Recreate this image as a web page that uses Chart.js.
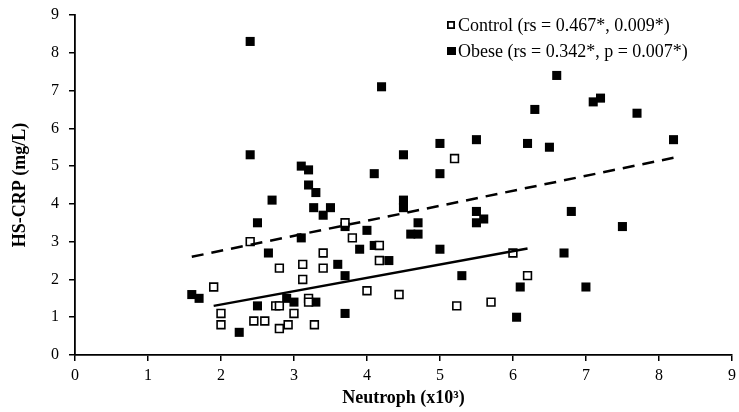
<!DOCTYPE html>
<html>
<head>
<meta charset="utf-8">
<script src="https://cdn.jsdelivr.net/npm/chart.js@4.4.1/dist/chart.umd.min.js"></script>
<style>
  html, body { margin: 0; padding: 0; background: #fff; }
  #wrap { width: 739px; height: 412px; }
</style>
</head>
<body>
<div id="wrap"><canvas id="hsChart" width="739" height="412"></canvas></div>
<script>
// valores (Neutroph x10^3, HS-CRP mg/L)
const controlX = [1.9, 2.0, 2.0, 2.4, 2.45, 2.6, 2.75, 2.8, 2.8, 2.8, 2.92, 3.0, 3.12, 3.12, 3.2, 3.2, 3.28, 3.4, 3.4, 3.7, 3.8, 4.0, 4.17, 4.17, 4.44, 5.2, 5.23, 5.7, 6.0, 6.2];
const controlY = [1.8, 1.1, 0.8, 3.0, 0.9, 0.9, 1.3, 1.3, 2.3, 0.7, 0.8, 1.1, 2.4, 2.0, 1.5, 1.4, 0.8, 2.7, 2.3, 3.5, 3.1, 1.7, 2.9, 2.5, 1.6, 5.2, 1.3, 1.4, 2.7, 2.1];

const obeseX = [1.6, 1.7, 2.25, 2.4, 2.4, 2.5, 2.5, 2.65, 2.7, 2.9, 3.0, 3.1, 3.1, 3.2, 3.2, 3.3, 3.27, 3.3, 3.4, 3.5, 3.6, 3.7, 3.7, 3.7, 3.9, 4.0, 4.1, 4.1, 4.2, 4.3, 4.5, 4.5, 4.5, 4.6, 4.7, 4.7, 5.0, 5.0, 5.0, 5.3, 5.5, 5.5, 5.5, 5.6, 6.05, 6.1, 6.2, 6.3, 6.5, 6.6, 6.7, 6.8, 7.0, 7.1, 7.2, 7.5, 7.7, 8.2];
const obeseY = [1.6, 1.5, 0.6, 8.3, 5.3, 3.5, 1.3, 2.7, 4.1, 1.5, 1.4, 5.0, 3.1, 4.9, 4.5, 4.3, 3.9, 1.4, 3.7, 3.9, 2.4, 3.4, 2.1, 1.1, 2.8, 3.3, 4.8, 2.9, 7.1, 2.5, 5.3, 4.1, 3.9, 3.2, 3.5, 3.2, 5.6, 4.8, 2.8, 2.1, 5.7, 3.8, 3.5, 3.6, 1.0, 1.8, 5.6, 6.5, 5.5, 7.4, 2.7, 3.8, 1.8, 6.7, 6.8, 3.4, 6.4, 5.7];

// lineas de tendencia (extremos)
const controlTrendX = [1.9, 6.2];
const controlTrendY = [1.3, 2.82];
const obeseTrendX = [1.6, 8.2];
const obeseTrendY = [2.6, 5.22];

const xTicks = [0, 1, 2, 3, 4, 5, 6, 7, 8, 9];
const yTicks = [0, 1, 2, 3, 4, 5, 6, 7, 8, 9];

const legendLabels = ['Control (rs = 0.467*, 0.009*)', 'Obese (rs = 0.342*, p = 0.007*)'];

function toPoints(xs, ys) {
    return xs.map((x, i) => ({ x: x, y: ys[i] }));
}

const serif = "'Liberation Serif', 'Times New Roman', serif";

// leyenda dibujada dentro del area del grafico
const insideLegend = {
    id: 'insideLegend',
    afterDraw(chart) {
        const ctx = chart.ctx;
        const area = chart.chartArea;
        const x0 = area.left + 372;
        const rows = [area.top + 10, area.top + 36];
        ctx.save();
        ctx.font = '18px ' + serif;
        ctx.textBaseline = 'middle';
        legendLabels.forEach((txt, i) => {
            const y = rows[i];
            if (i === 0) {
                ctx.fillStyle = '#fff';
                ctx.fillRect(x0, y - 4, 8, 8);
                ctx.lineWidth = 1.8;
                ctx.strokeStyle = '#000';
                ctx.strokeRect(x0 + 0.9, y - 3.1, 6.2, 6.2);
            } else {
                ctx.fillStyle = '#000';
                ctx.fillRect(x0, y - 4, 9, 8);
            }
            ctx.fillStyle = '#000';
            ctx.fillText(txt, x0 + 11, y + 1);
        });
        ctx.restore();
    }
};

const ctx = document.getElementById('hsChart').getContext('2d');

new Chart(ctx, {
    type: 'scatter',
    data: {
        datasets: [
            {
                label: 'Obese trend',
                data: toPoints(obeseTrendX, obeseTrendY),
                showLine: true,
                borderColor: '#000',
                borderWidth: 2.5,
                borderDash: [12, 8],
                pointRadius: 0,
                fill: false
            },
            {
                label: 'Control trend',
                data: toPoints(controlTrendX, controlTrendY),
                showLine: true,
                borderColor: '#000',
                borderWidth: 2.5,
                pointRadius: 0,
                fill: false
            },
            {
                label: 'Control',
                data: toPoints(controlX, controlY),
                pointStyle: 'rect',
                pointRadius: 5.5,
                backgroundColor: '#fff',
                borderColor: '#000',
                borderWidth: 1.6
            },
            {
                label: 'Obese',
                data: toPoints(obeseX, obeseY),
                pointStyle: 'rect',
                pointRadius: 6.4,
                backgroundColor: '#000',
                borderColor: '#000',
                borderWidth: 0
            }
        ]
    },
    options: {
        responsive: false,
        animation: false,
        layout: {
            padding: { top: 15, right: 7, bottom: 0, left: 0 }
        },
        plugins: {
            legend: { display: false },
            tooltip: { enabled: false }
        },
        scales: {
            x: {
                type: 'linear',
                min: 0,
                max: 9,
                afterBuildTicks: (scale) => { scale.ticks = xTicks.map(v => ({ value: v })); },
                afterFit: (scale) => { scale.height = 57; scale.paddingLeft = 0; scale.paddingRight = 0; },
                grid: { drawOnChartArea: false, drawTicks: true, tickLength: 6, color: '#000', lineWidth: 1.5 },
                border: { color: '#000', width: 1.8 },
                ticks: { color: '#000', font: { family: serif, size: 16 }, padding: 5, maxRotation: 0 },
                title: {
                    display: true,
                    text: 'Neutroph (x10³)',
                    color: '#000',
                    font: { family: serif, size: 18, weight: 'bold' },
                    padding: { top: 0, bottom: 3 }
                }
            },
            y: {
                type: 'linear',
                min: 0,
                max: 9,
                afterBuildTicks: (scale) => { scale.ticks = yTicks.map(v => ({ value: v })); },
                afterFit: (scale) => { scale.width = 75; scale.paddingTop = 0; scale.paddingBottom = 0; },
                grid: { drawOnChartArea: false, drawTicks: true, tickLength: 6, color: '#000', lineWidth: 1.5 },
                border: { color: '#000', width: 1.8 },
                ticks: { color: '#000', font: { family: serif, size: 16 }, padding: 10 },
                title: {
                    display: true,
                    text: 'HS-CRP (mg/L)',
                    color: '#000',
                    font: { family: serif, size: 18, weight: 'bold' },
                    padding: { top: 10, bottom: 8 }
                }
            }
        }
    },
    plugins: [insideLegend]
});
</script>
</body>
</html>
